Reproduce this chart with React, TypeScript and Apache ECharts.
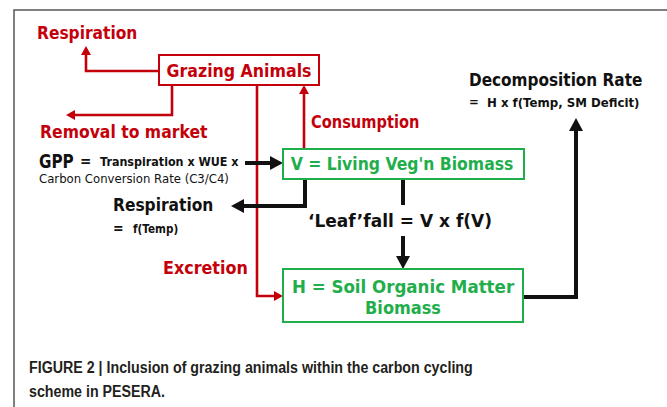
import React, { useEffect, useRef } from "react";
import * as echarts from "echarts";

// ---- texts (content) ----
const boxLabels = ["Grazing Animals", "V = Living Veg'n Biomass", "H = Soil Organic Matter", "Biomass"];
const redLabels = ["Respiration", "Removal to market", "Consumption", "Excretion"];
const blackLabels = ["Respiration", "f(Temp)", "\u2018Leaf\u2019fall = V x f(V)", "Decomposition Rate", "H x f(Temp, SM Deficit)"];
const gppParts = ["GPP", "=", "Transpiration x WUE x", "Carbon Conversion Rate (C3/C4)"];
const captionLines = ["FIGURE 2 | Inclusion of grazing animals within the carbon cycling", "scheme in PESERA."];

const RED = "#c4000b";
const GREEN = "#1fae4b";
const BLACK = "#111111";
const FONT = "DejaVu Sans";
const CAPFONT = "Liberation Sans";

type P = [number, number];

function arrow(pts: P[], color: string, lw: number, hl: number, hw: number): any[] {
  const n = pts.length;
  const [x1, y1] = pts[n - 2];
  const [x2, y2] = pts[n - 1];
  const dx = x2 - x1, dy = y2 - y1;
  const L = Math.hypot(dx, dy);
  const ux = dx / L, uy = dy / L;
  const bx = x2 - ux * hl, by = y2 - uy * hl;
  const px = -uy, py = ux;
  const linePts = pts.slice(0, n - 1).concat([[bx + ux, by + uy] as P]);
  return [
    { type: "polyline", shape: { points: linePts }, style: { stroke: color, lineWidth: lw, fill: null, lineJoin: "miter", lineCap: "butt" } },
    { type: "polygon", shape: { points: [[x2, y2], [bx + px * hw, by + py * hw], [bx - px * hw, by - py * hw]] }, style: { fill: color } },
  ];
}

function line(pts: P[], color: string, lw: number): any {
  return { type: "polyline", shape: { points: pts }, style: { stroke: color, lineWidth: lw, fill: null, lineJoin: "miter" } };
}

function box(x: number, y: number, w: number, h: number, color: string): any {
  return { type: "rect", shape: { x, y, width: w, height: h }, style: { fill: "#fff", stroke: color, lineWidth: 2 } };
}

function txt(text: string, x: number, y: number, color: string, size: number, align = "left", sx = 1, weight: any = "bold", font = FONT): any {
  return {
    type: "text",
    x, y, scaleX: sx,
    style: { text, fill: color, fontSize: size, fontWeight: weight, fontFamily: font, textAlign: align, textVerticalAlign: "middle" },
  };
}

export default function App() {
  const ref = useRef<HTMLDivElement>(null);
  useEffect(() => {
    if (!ref.current) return;
    const chart = echarts.init(ref.current, undefined, { renderer: "svg" });
    const RW = 2.6, BW = 4;
    const elements: any[] = [
      // frame
      line([[14, 407], [14, 10], [667, 10]], "#555555", 1.5),
      // red arrows
      ...arrow([[159, 71], [86, 71], [86, 46]], RED, RW, 9, 5),
      ...arrow([[172, 85], [172, 115], [66, 115]], RED, RW, 9, 5),
      ...arrow([[257, 85], [257, 296], [283, 296]], RED, RW, 9, 5),
      ...arrow([[304, 149], [304, 85]], RED, RW, 9, 5),
      // black arrows
      ...arrow([[245, 163], [283, 163]], BLACK, BW, 13, 7),
      ...arrow([[305, 179], [305, 206], [231, 206]], BLACK, BW, 13, 7),
      line([[403, 179], [403, 205]], BLACK, BW),
      ...arrow([[403, 236], [403, 269]], BLACK, BW, 13, 7),
      ...arrow([[523, 297], [576, 297], [576, 118]], BLACK, BW, 13, 7),
      // boxes
      box(159, 55, 160, 30, RED),
      box(283, 149, 241, 30, GREEN),
      box(283, 269, 240, 53, GREEN),
      txt(boxLabels[0], 239, 71, RED, 17, "center", 0.93),
      txt(boxLabels[1], 402, 164, GREEN, 17, "center", 0.92),
      txt(boxLabels[2], 403, 287, GREEN, 17, "center", 0.98),
      txt(boxLabels[3], 403, 308, GREEN, 17, "center", 0.95),
      // red labels
      txt(redLabels[0], 37, 33, RED, 17, "left", 0.91),
      txt(redLabels[1], 40, 132, RED, 17, "left", 0.92),
      txt(redLabels[2], 311, 122, RED, 17, "left", 0.86),
      txt(redLabels[3], 163, 268, RED, 17, "left", 0.94),
      // GPP
      txt(gppParts[0], 39, 161, BLACK, 19, "left", 0.8),
      txt(gppParts[1], 80, 161, BLACK, 15, "left", 0.9),
      txt(gppParts[2], 100, 162, BLACK, 12, "left", 0.93),
      txt(gppParts[3], 39, 179, BLACK, 12, "left", 0.975, "normal"),
      // black labels
      txt(blackLabels[0], 113, 205, BLACK, 17, "left", 0.91),
      txt("=", 113, 228, BLACK, 14, "left", 0.9),
      txt(blackLabels[1], 133, 229, BLACK, 12, "left", 0.87),
      txt(blackLabels[2], 400, 221, BLACK, 17, "center", 1.0),
      txt(blackLabels[3], 469, 80, BLACK, 17, "left", 0.9),
      txt("=", 469, 102, BLACK, 13, "left", 0.9),
      txt(blackLabels[4], 487, 103, BLACK, 12, "left", 0.98),
      // caption
      txt(captionLines[0], 29, 367, "#231f20", 17, "left", 0.838, "bold", CAPFONT),
      txt(captionLines[1], 29, 391, "#231f20", 17, "left", 0.838, "bold", CAPFONT),
    ];
    chart.setOption({ animation: false, graphic: { elements } });
    return () => chart.dispose();
  }, []);
  return <div ref={ref} style={{ position: "fixed", left: 0, top: 0, width: 667, height: 407, background: "#fff" }} />;
}
